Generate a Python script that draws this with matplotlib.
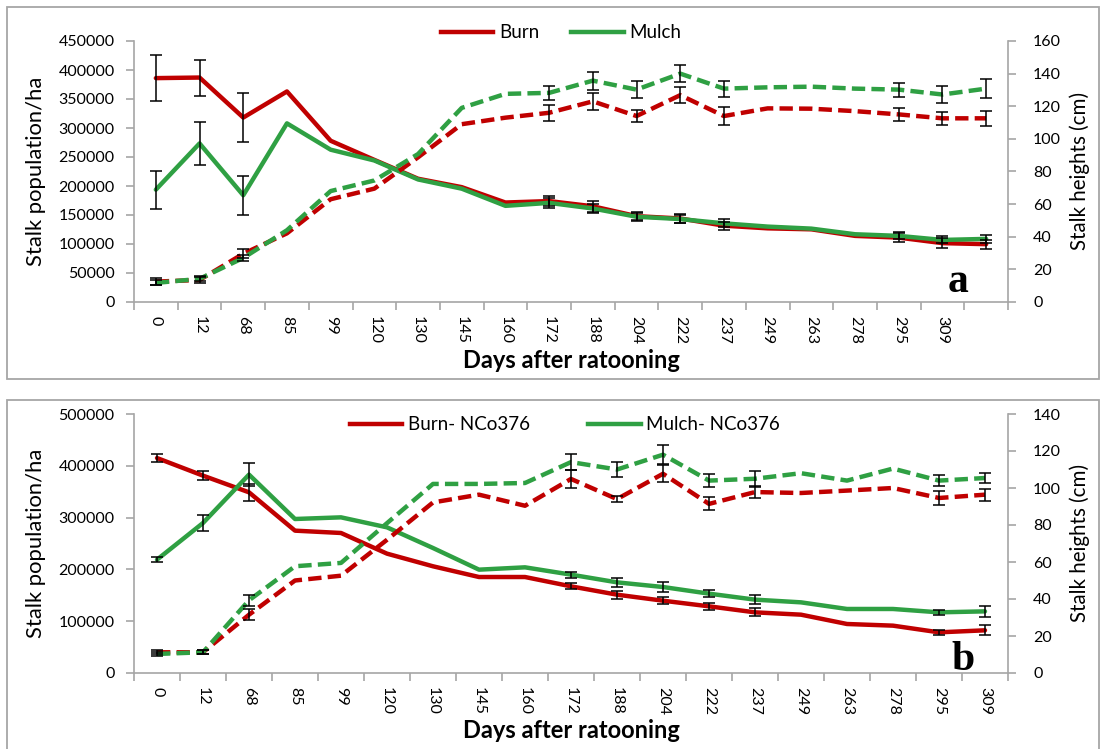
import numpy as np
import matplotlib
matplotlib.use("Agg")
import matplotlib.pyplot as plt
from matplotlib.patches import Rectangle
from matplotlib.lines import Line2D

plt.rcParams['font.family'] = ['Lato', 'DejaVu Sans']

RED = '#C00000'
GREEN = '#2FA043'
SPINE = '#A6A6A6'

# ---- panel a -------------------------------------------------------------
days_a = ['0', '12', '68', '85', '99', '120', '130', '145', '160', '172', '188',
          '204', '222', '237', '249', '263', '278', '295', '309', '']

pop_burn_a = [386000, 387000, 318000, 363000, 278000, 245000, 212500, 198000, 171500, 174000,
              165000, 148000, 144000, 131600, 127000, 125300, 114000, 111000, 101500, 99700]
pop_mulch_a = [193700, 273400, 184000, 308000, 262600, 244000, 211300, 195400, 165800, 170900,
               161200, 147000, 143000, 135600, 130000, 126500, 116800, 114000, 107000, 108800]
ht_burn_a = [12.5, 13.5, 29.6, 42.1, 63.0, 69.5, 88.7, 109.0, 113.0, 116.0,
             123.0, 114.0, 126.8, 114.0, 118.7, 118.5, 117.0, 115.0, 112.6, 112.6]
ht_mulch_a = [11.7, 14.2, 27.0, 44.0, 68.0, 74.5, 90.7, 119.0, 127.6, 128.2,
              135.7, 130.2, 140.0, 130.8, 131.6, 132.0, 130.8, 130.2, 127.2, 130.8]

# error bars: {category index: half-width}
pop_burn_err_a = {0: 40000, 1: 31000, 2: 42000, 9: 9000, 10: 10000, 11: 7000, 12: 8000,
                  13: 7000, 17: 8000, 18: 8000, 19: 8000}
pop_mulch_err_a = {0: 33000, 1: 37000, 2: 34000, 9: 9000, 10: 8000, 11: 7000, 12: 7000,
                   13: 7000, 17: 6000, 18: 6000, 19: 7000}
ht_burn_err_a = {0: 2.0, 1: 2.0, 2: 2.6, 9: 5.0, 10: 5.4, 11: 3.8, 12: 5.0, 13: 5.8,
                 17: 3.8, 18: 4.0, 19: 4.5}
ht_mulch_err_a = {0: 1.5, 1: 1.5, 2: 2.0, 9: 4.5, 10: 5.5, 11: 5.0, 12: 5.4, 13: 4.9,
                  17: 4.3, 18: 5.0, 19: 6.0}

# ---- panel b -------------------------------------------------------------
days_b = ['0', '12', '68', '85', '99', '120', '130', '145', '160', '172', '188',
          '204', '222', '237', '249', '263', '278', '295', '309']

pop_burn_b = [415000, 381000, 348800, 274800, 270300, 230400, 206000, 185300, 185300, 167300,
              151200, 139600, 128700, 117100, 112600, 94600, 91400, 78500, 82400]
pop_mulch_b = [218800, 289600, 383000, 297300, 300500, 281200, 241300, 199500, 204000, 189900,
               175000, 166000, 153200, 141600, 136400, 123600, 123600, 117100, 119000]
ht_burn_b = [11.2, 11.2, 31.5, 50.0, 52.6, 72.0, 92.2, 96.4, 90.4, 104.9,
             94.0, 107.7, 91.4, 97.8, 97.3, 98.6, 100.0, 94.6, 96.4]
ht_mulch_b = [10.3, 11.2, 39.3, 57.7, 59.5, 81.0, 102.2, 102.2, 102.7, 114.0,
              110.0, 118.0, 104.0, 105.0, 108.0, 104.0, 110.5, 104.0, 105.4]

pop_burn_err_b = {0: 7000, 1: 9000, 2: 16000, 9: 6000, 10: 8000, 11: 7000, 12: 7000,
                  13: 8000, 17: 5000, 18: 9600}
pop_mulch_err_b = {0: 5000, 1: 15000, 2: 22500, 9: 6000, 10: 9000, 11: 9000, 12: 7000,
                   13: 9000, 17: 5000, 18: 10000}
ht_burn_err_b = {0: 1.0, 1: 1.0, 2: 3.0, 9: 5.0, 10: 1.5, 11: 4.5, 12: 3.5, 13: 3.3,
                 17: 3.9, 18: 3.3}
ht_mulch_err_b = {0: 1.0, 1: 1.0, 2: 3.0, 9: 4.5, 10: 3.8, 11: 5.0, 12: 3.7, 13: 4.2,
                  17: 3.0, 18: 2.9}

W, H = 1101, 749


def errbars(ax, vals, errs):
    idx = sorted(errs)
    ax.errorbar(idx, [vals[i] for i in idx], yerr=[errs[i] for i in idx], fmt='none',
                ecolor='black', elinewidth=1.1, capsize=4.5, capthick=1.1, zorder=5)


def style_axis(ax, side, pad):
    for s in ['top', 'left', 'right', 'bottom']:
        ax.spines[s].set_visible(False)
    ax.spines[side].set_visible(True)
    ax.spines[side].set_color(SPINE)
    ax.spines[side].set_linewidth(1.2)
    ax.tick_params(axis='y', direction='out', length=6, width=1.2, color=SPINE,
                   labelsize=11.5, pad=pad)


def panel(rect, days, pb, pm, hb, hm, pbe, pme, hbe, hme, pmax, pstep, hmax, hstep,
          letter, names, leg_xy, colsp):
    ax = fig.add_axes([rect[0] / W, 1 - rect[3] / H, (rect[2] - rect[0]) / W,
                       (rect[3] - rect[1]) / H])
    ax2 = ax.twinx()
    n = len(days)
    x = np.arange(n)

    ax.plot(x, pb, color=RED, lw=3.2, solid_capstyle='round', zorder=3)
    ax.plot(x, pm, color=GREEN, lw=3.2, solid_capstyle='round', zorder=3)
    errbars(ax, pb, pbe)
    errbars(ax, pm, pme)

    ax2.plot(x, hb, color=RED, lw=3.2, ls=(0, (3, 1.4)), zorder=3)
    ax2.plot(x, hm, color=GREEN, lw=3.2, ls=(0, (3, 1.4)), zorder=3)
    errbars(ax2, hb, hbe)
    errbars(ax2, hm, hme)

    ax.set_xlim(-0.5, n - 0.5)
    ax.set_ylim(0, pmax)
    ax.set_yticks(np.arange(0, pmax + 1, pstep))
    ax2.set_ylim(0, hmax)
    ax2.set_yticks(np.arange(0, hmax + 1, hstep))

    style_axis(ax, 'left', 8)
    style_axis(ax2, 'right', 12)
    ax.spines['bottom'].set_visible(True)
    ax.spines['bottom'].set_color(SPINE)
    ax.spines['bottom'].set_linewidth(1.2)

    # category axis: tick marks between categories, labels at centres
    ax.set_xticks(np.arange(-0.5, n, 1.0))
    ax.set_xticklabels([])
    ax.set_xticks(x, minor=True)
    ax.set_xticklabels(days, minor=True, rotation=270, fontsize=11.5)
    ax.tick_params(axis='x', which='major', direction='out', length=6, width=1.2,
                   color=SPINE)
    ax.tick_params(axis='x', which='minor', length=0, pad=10)

    ymid = 1 - (rect[1] + rect[3]) / 2 / H
    fig.text(36 / W, ymid, 'Stalk population/ha', rotation=90, ha='center', va='center',
             fontsize=15.8)
    fig.text(1080 / W, ymid, 'Stalk heights (cm)', rotation=90, ha='center', va='center',
             fontsize=14.8)
    fig.text(571 / W, 1 - (rect[3] + 58) / H, 'Days after ratooning', ha='center',
             va='center', fontsize=17, fontweight='bold')

    ax.text(letter[1], letter[2], letter[0], transform=ax.transAxes, ha='center',
            va='baseline', fontsize=30, fontweight='bold', family='Liberation Serif')

    handles = [Line2D([], [], color=RED, lw=3.2), Line2D([], [], color=GREEN, lw=3.2)]
    fig.legend(handles, names, loc='center', bbox_to_anchor=leg_xy, ncol=2, frameon=False,
               fontsize=13.5, handlelength=2.8, handletextpad=0.3, columnspacing=colsp)
    return ax, ax2


fig = plt.figure(figsize=(11.01, 7.49), dpi=100)

# gray frames around each panel
fig.patches.append(Rectangle((7 / W, 1 - 379 / H), 1092 / W, 372 / H, transform=fig.transFigure,
                             fill=False, edgecolor=SPINE, lw=1.3))
fig.patches.append(Rectangle((7 / W, -0.05), 1092 / W, 1 - 400 / H + 0.05,
                             transform=fig.transFigure, fill=False, edgecolor=SPINE, lw=1.3))

# rect = (left, top, right, bottom) in pixels
panel((134, 41, 1008, 302), days_a,
      pop_burn_a, pop_mulch_a, ht_burn_a, ht_mulch_a,
      pop_burn_err_a, pop_mulch_err_a, ht_burn_err_a, ht_mulch_err_a,
      450000, 50000, 160, 20, ('a', 0.943, 0.038), ['Burn', 'Mulch'],
      (561 / W, 1 - 33 / H), 1.7)

panel((134, 414, 1008, 673), days_b,
      pop_burn_b, pop_mulch_b, ht_burn_b, ht_mulch_b,
      pop_burn_err_b, pop_mulch_err_b, ht_burn_err_b, ht_mulch_err_b,
      500000, 100000, 140, 20, ('b', 0.949, 0.012), ['Burn- NCo376', 'Mulch- NCo376'],
      (565 / W, 1 - 425 / H), 3.1)

fig.savefig('out.png', dpi=100)
